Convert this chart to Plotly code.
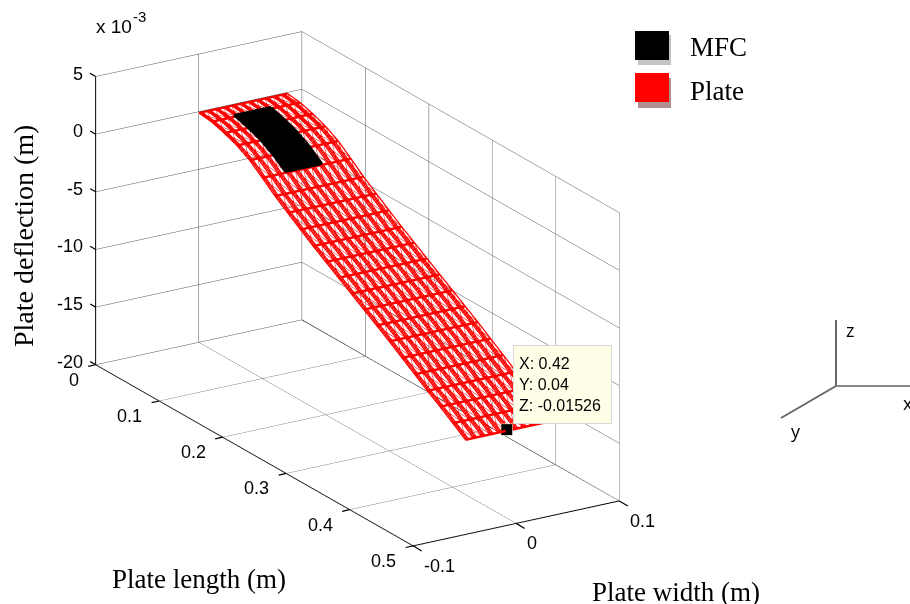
import plotly.graph_objects as go

# ---------- data ----------
plate_x = [0.00,0.02,0.04,0.06,0.08,0.10,0.12,0.14,0.16,0.18,0.20,0.22,0.24,0.26,0.28,0.30,0.32,0.34,0.36,0.38,0.40,0.42]
plate_z = [-0.0001,-0.00025,-0.0006,-0.00105,-0.0017,-0.0026,-0.00355,-0.00438,-0.0052,-0.006,-0.00675,-0.0075,-0.00825,-0.009,-0.00975,-0.0105,-0.0113,-0.0121,-0.0129,-0.01365,-0.01445,-0.01526]
plate_y = [0.0,0.0015,0.003, 0.008,0.0095,0.011, 0.016,0.0175,0.019, 0.024,0.0255,0.027, 0.032,0.0335,0.035,
           0.04,0.0415,0.043, 0.048,0.0495,0.051, 0.056,0.0575,0.059, 0.064,0.0655,0.067, 0.072,0.0735,0.075, 0.08,0.0815,0.083, 0.086]
mfc_x = [0.02,0.04,0.06,0.08,0.10]
mfc_y = [0.022,0.0265,0.031,0.0355,0.04,0.0445,0.049,0.0535,0.058]
mfc_lift = 0.00012
tip = dict(x=0.42, y=0.04, z=-0.01526)
x_ticks = [0,0.1,0.2,0.3,0.4,0.5]
x_labels = ["0","0.1","0.2","0.3","0.4","0.5"]
y_ticks = [-0.1,0,0.1]
y_labels = ["-0.1","0","0.1"]
z_ticks = [-0.02,-0.015,-0.01,-0.005,0,0.005]
z_labels = ["-20","-15","-10","-5","0","5"]

W, H = 910, 604
def px(x): return x / W
def py(y): return 1 - y / H

def add_lines(fig, pts_list, color, width, name):
    X, Y, Z = [], [], []
    for pts in pts_list:
        for (a, b, c) in pts:
            X.append(a); Y.append(b); Z.append(c)
        X.append(None); Y.append(None); Z.append(None)
    fig.add_trace(go.Scatter3d(x=X, y=Y, z=Z, mode="lines", name=name, hoverinfo="skip", connectgaps=False,
                               line=dict(color=color, width=width)))

def mesh(fig, xs, ys, zs, color, w_row, w_col, w_diag, step, name, lift=0.0):
    zs = [z + lift for z in zs]
    add_lines(fig, [[(x, y, zs[i]) for y in ys] for i, x in enumerate(xs)], color, w_row, name)
    add_lines(fig, [[(x, y, zs[i]) for i, x in enumerate(xs)] for y in ys], color, w_col, name)
    coarse = ys[::step]
    diag = []
    for i in range(len(xs) - 1):
        for j in range(len(coarse) - 1):
            diag.append([(xs[i], coarse[j], zs[i]), (xs[i+1], coarse[j+1], zs[i+1])])
            diag.append([(xs[i+1], coarse[j], zs[i+1]), (xs[i], coarse[j+1], zs[i])])
    add_lines(fig, diag, color, w_diag, name)

mfc_z = [plate_z[plate_x.index(v)] for v in mfc_x]
fig = go.Figure()
# back floor edge, drawn black as in the reference
add_lines(fig, [[(x_ticks[0], y_ticks[-1], z_ticks[0]), (x_ticks[-1], y_ticks[-1], z_ticks[0])]], "#000000", 1.5, "edge")
mesh(fig, plate_x, plate_y, plate_z, "#ff0000", 5, 2.5, 1, 3, "Plate")
fig.add_trace(go.Surface(x=mfc_x, y=mfc_y, z=[[z + mfc_lift for z in mfc_z] for _ in mfc_y], showscale=False,
                         colorscale=[[0, "#000000"], [1, "#000000"]], hoverinfo="skip", name="MFC",
                         lighting=dict(ambient=1, diffuse=0, specular=0, fresnel=0)))
mesh(fig, mfc_x, mfc_y, mfc_z, "#000000", 6, 4, 2, 2, "MFC", mfc_lift)
fig.add_trace(go.Scatter3d(x=[tip["x"]], y=[tip["y"]], z=[tip["z"]+mfc_lift], mode="markers", name="tip", hoverinfo="skip",
    marker=dict(symbol="square", size=6, color="#000000", line=dict(color="#ffffe0", width=1))))

def axis(rng, vals):
    return dict(range=rng, tickmode="array", tickvals=vals, title=dict(text=""), showbackground=False,
             showgrid=True, gridcolor="#505050", gridwidth=1, showline=True, linecolor="#000000", linewidth=2,
             zeroline=False, showspikes=False, ticks="", showticklabels=False, autorange=False)

tick_font = dict(family="Liberation Sans", size=18, color="#000000")
scene_ann = []
def tick_mark(x, y, z, ax, ay):
    scene_ann.append(dict(x=x, y=y, z=z, text=" ", showarrow=True, arrowhead=0, arrowwidth=1.2, arrowcolor="#000000",
                          ax=ax, ay=ay, standoff=0, font=dict(size=1)))
for v, t in zip(x_ticks, x_labels):
    scene_ann.append(dict(x=v, y=y_ticks[0], z=z_ticks[0], text=t, showarrow=False, font=tick_font,
                          xanchor="right", yanchor="middle", xshift=-15, yshift=-15))
    tick_mark(v, y_ticks[0], z_ticks[0], -9, 2)
for v, t in zip(y_ticks, y_labels):
    scene_ann.append(dict(x=x_ticks[-1], y=v, z=z_ticks[0], text=t, showarrow=False, font=tick_font,
                          xanchor="left", yanchor="middle", xshift=9, yshift=-20))
    tick_mark(x_ticks[-1], v, z_ticks[0], 10, 6)
for v, t in zip(z_ticks, z_labels):
    scene_ann.append(dict(x=x_ticks[0], y=y_ticks[0], z=v, text=t, showarrow=False, font=tick_font,
                          xanchor="right", yanchor="middle", xshift=-11, yshift=3))
    tick_mark(x_ticks[0], y_ticks[0], v, -7, -4)

dz = 0.047
asp = 1.02
fig.update_layout(
    width=W, height=H, margin=dict(l=0,r=0,t=0,b=0), paper_bgcolor="white", showlegend=False,
    scene=dict(
        domain=dict(x=[0, 715/W], y=[0.0, 1.0]),
        xaxis=axis([0,0.5], x_ticks),
        yaxis=axis([-0.1,0.1], y_ticks),
        zaxis=axis([-0.02,0.005], z_ticks),
        aspectmode="manual",
        aspectratio=dict(x=1.96*asp, y=0.787*asp, z=1.0*asp),
        annotations=scene_ann,
        camera=dict(projection=dict(type="orthographic"), eye=dict(x=0.796, y=-0.492, z=0.3526-dz), center=dict(x=0,y=0,z=-dz), up=dict(x=0,y=0,z=1)),
    ),
)

serif = "Liberation Serif"
sans = "Liberation Sans"
tri = "Open Sans"
ann = [
    dict(text="Plate length (m)", xy=(199,579), size=27, fam=serif),
    dict(text="Plate width (m)", xy=(676,592), size=27, fam=serif),
    dict(text="Plate deflection (m)", xy=(23,236), size=28, fam=serif, rot=-90),
    dict(text="MFC", xy=(718,47), size=27, fam=serif),
    dict(text="Plate", xy=(717,91), size=27, fam=serif),
    dict(text="x 10", xy=(114,27), size=19, fam=sans),
    dict(text="-3", xy=(139,17), size=15, fam=sans),
    dict(text="z", xy=(850,330), size=18, fam=tri),
    dict(text="y", xy=(796,431), size=18, fam=tri),
    dict(text="x", xy=(908,403), size=18, fam=tri),
]
annotations = [dict(x=px(a["xy"][0]), y=py(a["xy"][1]), xref="paper", yref="paper", text=a["text"], showarrow=False,
                    textangle=a.get("rot",0), font=dict(family=a["fam"], size=a["size"], color="#000000"),
                    xanchor="center", yanchor="middle") for a in ann]
annotations.append(dict(x=px(513), y=py(345), xref="paper", yref="paper", xanchor="left", yanchor="top", showarrow=False,
    text="X: 0.42<br>Y: 0.04<br>Z: -0.01526", align="left", bgcolor="#ffffe8", bordercolor="#d8d8d8", borderwidth=1, borderpad=5,
    width=87, height=67, font=dict(family=sans, size=16, color="#000000")))
fig.update_layout(annotations=annotations)

def rect(x0,y0,x1,y1,c):
    return dict(type="rect", xref="paper", yref="paper", x0=px(x0), x1=px(x1), y0=py(y1), y1=py(y0), fillcolor=c, line=dict(width=0), layer="above")
def line(x0,y0,x1,y1,c="#666666",w=2):
    return dict(type="line", xref="paper", yref="paper", x0=px(x0), x1=px(x1), y0=py(y0), y1=py(y1), line=dict(color=c,width=w), layer="above")
fig.update_layout(shapes=[
    rect(638,35,671,65,"#c4c4c4"), rect(635,31,669,60,"#000000"),
    rect(638,78,671,108,"#b09090"), rect(635,73,669,102,"#ff0000"),
    line(836,320,836,386), line(836,386,910,386,"#888888"), line(836,386,781,418),
])
fig.write_html("out.html", config=dict(displayModeBar=False), post_script="document.body.style.margin='0';document.body.style.overflow='hidden';")
